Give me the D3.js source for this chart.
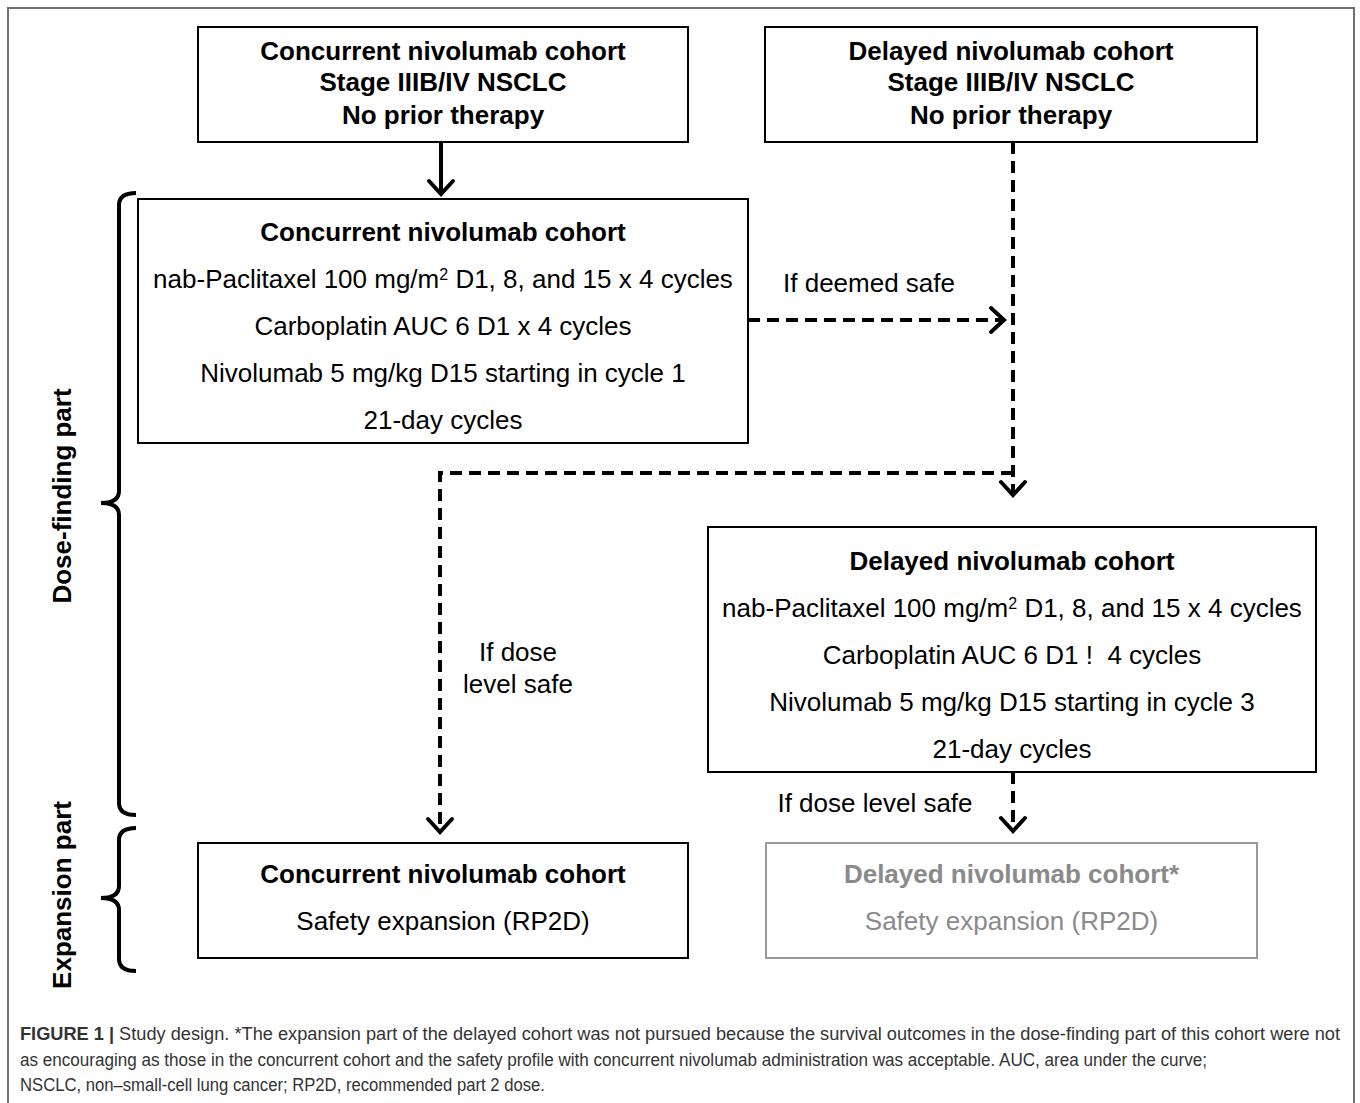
<!DOCTYPE html>
<html><head><meta charset="utf-8">
<script src="https://cdn.jsdelivr.net/npm/d3@7"></script>
<style>body{margin:0;background:#fff}svg{display:block}text{white-space:pre}</style>
</head><body>
<script>
// ---- content ----
const boxTitles = [
  "Concurrent nivolumab cohort",
  "Delayed nivolumab cohort",
  "Concurrent nivolumab cohort",
  "Delayed nivolumab cohort",
  "Concurrent nivolumab cohort",
  "Delayed nivolumab cohort*"
];
const boxLines = [
  ["Stage IIIB/IV NSCLC", "No prior therapy"],
  ["Stage IIIB/IV NSCLC", "No prior therapy"],
  ["nab-Paclitaxel 100 mg/m² D1, 8, and 15 x 4 cycles", "Carboplatin AUC 6 D1 x 4 cycles", "Nivolumab 5 mg/kg D15 starting in cycle 1", "21-day cycles"],
  ["nab-Paclitaxel 100 mg/m² D1, 8, and 15 x 4 cycles", "Carboplatin AUC 6 D1 !  4 cycles", "Nivolumab 5 mg/kg D15 starting in cycle 3", "21-day cycles"],
  ["Safety expansion (RP2D)"],
  ["Safety expansion (RP2D)"]
];
const boxBoldAll = [true, true, false, false, false, false];
const boxMuted = [false, false, false, false, false, true];
const arrowLabels = ["If deemed safe", "If dose", "level safe", "If dose level safe"];
const partLabels = ["Dose-finding part", "Expansion part"];
const captionBold = "FIGURE 1 |";
const captionLines = [
  " Study design. *The expansion part of the delayed cohort was not pursued because the survival outcomes in the dose-finding part of this cohort were not",
  "as encouraging as those in the concurrent cohort and the safety profile with concurrent nivolumab administration was acceptable. AUC, area under the curve;",
  "NSCLC, non–small-cell lung cancer; RP2D, recommended part 2 dose."
];

// ---- layout ----
const W = 1360, H = 1103;
const svg = d3.select("body").append("svg").attr("width", W).attr("height", H);
const FONT = "'Liberation Sans', Arial, Helvetica, sans-serif";
const FS = 26;

// outer frame (open at bottom)
svg.append("path").attr("d", "M8,1103V8H1354V1103").attr("fill","none")
  .attr("stroke","#6e6e6e").attr("stroke-width",2);

const boxRects = [
  {x:198, y:27, w:490, h:115, ys:[51,82,115]},
  {x:765, y:27, w:492, h:115, ys:[51,82,115]},
  {x:138, y:199, w:610, h:244, ys:[232,279,326,373,420]},
  {x:708, y:527, w:608, h:245, ys:[561,608,655,702,749]},
  {x:198, y:843, w:490, h:115, ys:[874,921]},
  {x:766, y:843, w:491, h:115, ys:[874,921]}
];

boxRects.forEach((b, i) => {
  const col = boxMuted[i] ? "#8a8a8a" : "#000";
  const g = svg.append("g");
  g.append("rect").attr("x", b.x).attr("y", b.y).attr("width", b.w).attr("height", b.h)
    .attr("fill", "#fff").attr("stroke", boxMuted[i] ? "#999" : "#000").attr("stroke-width", 2);
  const lines = [boxTitles[i]].concat(boxLines[i]);
  lines.forEach((t, j) => {
    const bold = j === 0 || boxBoldAll[i];
    const txt = g.append("text").attr("x", b.x + b.w/2).attr("y", b.ys[j]).attr("dy", "0.36em")
      .attr("text-anchor", "middle").attr("font-family", FONT)
      .attr("font-size", FS).attr("font-weight", bold ? "bold" : "normal")
      .attr("fill", col);
    if (t.includes("m²")) {
      const parts = t.split("²");
      txt.append("tspan").text(parts[0]);
      txt.append("tspan").attr("font-size", 16).attr("baseline-shift", "super").text("2");
      txt.append("tspan").text(parts[1]);
    } else {
      txt.text(t);
    }
  });
});

// arrows
function chevron(x, y, dir) {
  const s = 12, l = 13;
  let d;
  if (dir === "down") d = `M${x-s},${y-l}L${x},${y}L${x+s},${y-l}`;
  else d = `M${x-l},${y-s}L${x},${y}L${x-l},${y+s}`;
  svg.append("path").attr("d", d).attr("fill", "none").attr("stroke", "#000")
    .attr("stroke-width", 4).attr("stroke-linecap", "round").attr("stroke-linejoin", "miter");
}
function line(d, dashed) {
  svg.append("path").attr("d", d).attr("fill", "none").attr("stroke", "#000")
    .attr("stroke-width", 4).attr("stroke-dasharray", dashed ? "12,7" : null);
}
line("M441,142V193", false); chevron(441, 194, "down");
line("M748,320H1003", true); chevron(1004, 320, "right");
line("M1013,142V494", true); chevron(1013, 495, "down");
line("M1013,473H440V831", true); chevron(440, 832, "down");
line("M1013,772V830", true); chevron(1013, 831, "down");

// arrow labels
const lab = [
  {x:869, y:283},
  {x:518, y:652},
  {x:518, y:684},
  {x:875, y:803}
];
arrowLabels.forEach((t, i) => {
  svg.append("text").attr("x", lab[i].x).attr("y", lab[i].y).attr("dy", "0.36em")
    .attr("text-anchor", "middle").attr("font-family", FONT).attr("font-size", FS)
    .attr("fill", "#000").text(t);
});

// braces
function brace(top, tip, bottom) {
  const sx = 119, hx = 136, tx = 101, r = 12;
  const d = `M${hx},${top}Q${sx},${top} ${sx},${top+r}` +
            `L${sx},${tip-r}Q${sx},${tip} ${tx},${tip}Q${sx},${tip} ${sx},${tip+r}` +
            `L${sx},${bottom-r}Q${sx},${bottom} ${hx},${bottom}`;
  svg.append("path").attr("d", d).attr("fill","none").attr("stroke","#000").attr("stroke-width",4);
}
brace(193, 503, 815);
brace(828, 898, 971);

const partPos = [{x:62, y:496}, {x:62, y:895}];
partLabels.forEach((t, i) => {
  svg.append("text").attr("transform", `translate(${partPos[i].x},${partPos[i].y}) rotate(-90)`)
    .attr("dy", "0.36em").attr("text-anchor", "middle").attr("font-family", FONT)
    .attr("font-size", FS).attr("font-weight", "bold").attr("fill", "#000").text(t);
});

// caption
const capY = [1034, 1060, 1085];
const capW = [1320, 1187, 525];
captionLines.forEach((t, i) => {
  const txt = svg.append("text").attr("x", 20).attr("y", capY[i]).attr("dy", "0.36em")
    .attr("font-family", FONT).attr("font-size", 17.5).attr("fill", "#333")
    .attr("textLength", capW[i]).attr("lengthAdjust", "spacingAndGlyphs");
  if (i === 0) {
    txt.append("tspan").attr("font-weight", "bold").text(captionBold);
    txt.append("tspan").attr("font-weight", "300").text(t);
  } else txt.text(t);
});
</script>
</body></html>
